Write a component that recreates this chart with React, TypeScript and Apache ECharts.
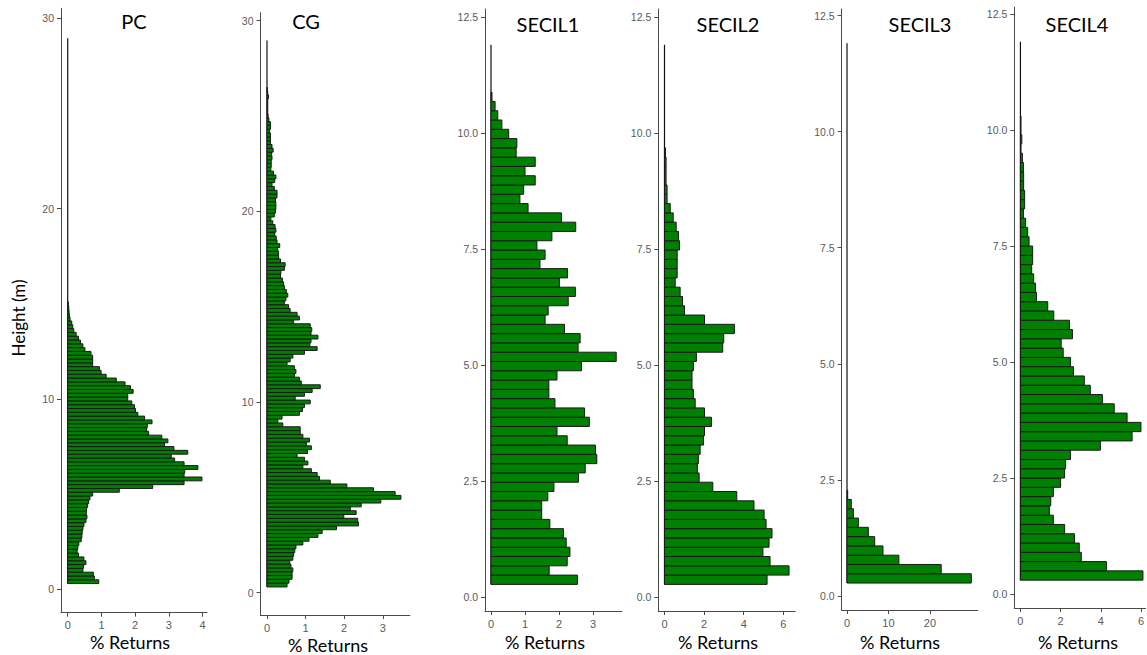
import { useEffect, useRef } from "react";
import * as echarts from "echarts";

// ---------- DATA ----------
const BIN_WIDTH = 0.2;

const PANEL_TITLES = ["PC", "CG", "SECIL1", "SECIL2", "SECIL3", "SECIL4"];
const X_AXIS_NAME = "% Returns";
const Y_AXIS_NAME = "Height (m)";

// values listed from the lowest height bin upward
const PC_BIN_START = 0.3;
const PC_VALUES = [
  0.92, 0.79, 0.76, 0.45, 0.47, 0.54, 0.48, 0.32, 0.28, 0.3,
  0.33, 0.4, 0.42, 0.43, 0.45, 0.48, 0.54, 0.57, 0.55, 0.56,
  0.59, 0.62, 0.66, 0.74, 1.53, 2.52, 3.45, 3.98, 3.45, 3.47,
  3.86, 3.45, 3.17, 3.07, 3.56, 3.15, 2.87, 2.97, 2.79, 2.4,
  2.34, 2.36, 2.5, 2.28, 2.08, 2.01, 1.98, 1.9, 1.78, 1.78,
  1.94, 1.86, 1.7, 1.44, 1.14, 0.99, 0.94, 0.74, 0.74, 0.74,
  0.69, 0.51, 0.45, 0.38, 0.32, 0.25, 0.18, 0.15, 0.12, 0.07,
  0.05, 0.04, 0.03, 0.02,
];
const PC_ZERO_LINE_TOP = 28.95;

const CG_BIN_START = 0.3;
const CG_VALUES = [
  0.52, 0.57, 0.65, 0.65, 0.67, 0.62, 0.59, 0.67, 0.69, 0.72,
  0.75, 0.93, 1.09, 1.32, 1.43, 1.8, 2.37, 2.35, 1.99, 2.31,
  2.16, 2.44, 2.95, 3.47, 3.32, 2.76, 2.07, 1.64, 1.36, 1.3,
  1.15, 0.93, 1.06, 0.97, 0.78, 1.05, 1.15, 1.02, 1.1, 0.93,
  0.86, 0.86, 0.41, 0.28, 0.39, 0.84, 0.92, 0.97, 1.12, 0.73,
  0.97, 1.17, 1.38, 0.89, 0.84, 0.71, 0.75, 0.71, 0.52, 0.6,
  0.67, 0.97, 1.3, 1.11, 1.14,
  1.32, 1.14, 1.16, 1.12, 0.69, 0.84, 0.78, 0.6, 0.56, 0.45,
  0.49, 0.54, 0.5, 0.45, 0.43, 0.4, 0.35, 0.36, 0.45, 0.47,
  0.35, 0.3, 0.3, 0.28, 0.33, 0.26, 0.24, 0.2, 0.23, 0.21,
  0.15, 0.1, 0.19, 0.22, 0.23, 0.23, 0.22, 0.26, 0.26, 0.19,
  0.13, 0.2, 0.23, 0.17, 0.1, 0.11, 0.11, 0.13, 0.12, 0.16,
  0.13, 0.09, 0.09, 0.09, 0.07, 0.09, 0.09, 0.05, 0.03, 0.02,
  0.02, 0.02, 0.02, 0.04, 0.02, 0.01,
];
const CG_ZERO_LINE_TOP = 28.95;

const SECIL1_BIN_START = 0.28;
const SECIL1_VALUES = [
  2.54, 1.71, 2.24, 2.32, 2.21, 2.13, 1.73, 1.49, 1.49, 1.67,
  1.85, 2.57, 2.77, 3.11, 3.07, 2.24, 1.94, 2.89, 2.75, 1.88,
  1.7, 1.7, 1.94, 2.66, 3.68, 2.56, 2.62, 2.16, 1.59, 1.68,
  2.27, 2.48, 2.01, 2.25, 1.44, 1.59, 1.35, 1.79, 2.49, 2.07,
  1.09, 0.85, 0.96, 1.3, 1.0, 1.3, 0.74, 0.76, 0.52, 0.32,
  0.2, 0.12, 0.03,
];
const SECIL1_ZERO_LINE_TOP = 11.9;

const SECIL2_BIN_START = 0.28;
const SECIL2_VALUES = [
  5.18, 6.29, 5.33, 4.97, 5.28, 5.43, 5.13, 5.03, 4.52, 3.65,
  2.44, 1.75, 1.66, 1.71, 1.8, 1.97, 2.02, 2.37, 2.02, 1.55,
  1.46, 1.39, 1.39, 1.46, 1.61, 2.94, 2.99, 3.53, 2.02, 1.01,
  0.91, 0.79, 0.54, 0.64, 0.64, 0.64, 0.76, 0.71, 0.59, 0.44,
  0.29, 0.13, 0.13, 0.08, 0.08, 0.08, 0.05,
];
const SECIL2_ZERO_LINE_TOP = 11.9;

const SECIL3_BIN_START = 0.28;
const SECIL3_VALUES = [29.96, 22.7, 12.5, 8.67, 6.67, 5.14, 2.73, 1.53, 1.04, 0.16];
const SECIL3_ZERO_LINE_TOP = 11.9;

const SECIL4_BIN_START = 0.3;
const SECIL4_VALUES = [
  6.1, 4.28, 3.03, 2.93, 2.69, 2.2, 1.64, 1.44, 1.51, 1.64,
  2.0, 2.2, 2.25, 2.49, 3.98, 5.56, 6.0, 5.31, 4.67, 4.08,
  3.48, 3.18, 2.64, 2.49, 2.13, 2.03, 2.59, 2.44, 1.66, 1.36,
  0.8, 0.75, 0.66, 0.56, 0.61, 0.61, 0.43, 0.36, 0.26, 0.15,
  0.21, 0.21, 0.16, 0.16, 0.15, 0.1, 0.03, 0.07, 0.03, 0.03,
];
const SECIL4_ZERO_LINE_TOP = 11.9;

const PC_X_TICKS = [0, 1, 2, 3, 4];
const CG_X_TICKS = [0, 1, 2, 3];
const SECIL1_X_TICKS = [0, 1, 2, 3];
const SECIL2_X_TICKS = [0, 2, 4, 6];
const SECIL3_X_TICKS = [0, 10, 20];
const SECIL4_X_TICKS = [0, 2, 4, 6];
const PC_Y_TICKS = [0, 10, 20, 30];
const SECIL_Y_TICKS = [0, 2.5, 5, 7.5, 10, 12.5];

// ---------- LAYOUT / STYLE ----------
const PANELS = [
  { values: PC_VALUES, start: PC_BIN_START, zeroTop: PC_ZERO_LINE_TOP, xTicks: PC_X_TICKS, yTicks: PC_Y_TICKS, dec: 0,
    left: 61, top: 8.3, right: 207, bottom: 612.7, xMin: -0.199, xMax: 4.13, yMin: -1.23, yMax: 30.53, titleX: 134, titleY: 21, nameX: 130, nameY: 642 },
  { values: CG_VALUES, start: CG_BIN_START, zeroTop: CG_ZERO_LINE_TOP, xTicks: CG_X_TICKS, yTicks: PC_Y_TICKS, dec: 0,
    left: 260.5, top: 12.7, right: 409.8, bottom: 615, xMin: -0.168, xMax: 3.7, yMin: -1.17, yMax: 30.41, titleX: 306, titleY: 21, nameX: 328, nameY: 645 },
  { values: SECIL1_VALUES, start: SECIL1_BIN_START, zeroTop: SECIL1_ZERO_LINE_TOP, xTicks: SECIL1_X_TICKS, yTicks: SECIL_Y_TICKS, dec: 1,
    left: 485, top: 9, right: 622, bottom: 611, xMin: -0.176, xMax: 3.85, yMin: -0.293, yMax: 12.67, titleX: 548, titleY: 24, nameX: 545, nameY: 642 },
  { values: SECIL2_VALUES, start: SECIL2_BIN_START, zeroTop: SECIL2_ZERO_LINE_TOP, xTicks: SECIL2_X_TICKS, yTicks: SECIL_Y_TICKS, dec: 1,
    left: 658.3, top: 9, right: 795.2, bottom: 611, xMin: -0.313, xMax: 6.6, yMin: -0.293, yMax: 12.67, titleX: 728, titleY: 24, nameX: 718, nameY: 642 },
  { values: SECIL3_VALUES, start: SECIL3_BIN_START, zeroTop: SECIL3_ZERO_LINE_TOP, xTicks: SECIL3_X_TICKS, yTicks: SECIL_Y_TICKS, dec: 1,
    left: 841.7, top: 9, right: 977.7, bottom: 610, xMin: -1.28, xMax: 31.5, yMin: -0.3, yMax: 12.64, titleX: 920, titleY: 24, nameX: 900, nameY: 642 },
  { values: SECIL4_VALUES, start: SECIL4_BIN_START, zeroTop: SECIL4_ZERO_LINE_TOP, xTicks: SECIL4_X_TICKS, yTicks: SECIL_Y_TICKS, dec: 1,
    left: 1014.3, top: 7, right: 1147, bottom: 608, xMin: -0.305, xMax: 6.23, yMin: -0.3, yMax: 12.65, titleX: 1077, titleY: 24, nameX: 1078, nameY: 642 },
];

const BAR_FILL = "#008000";
const BAR_STROKE = "#1a1a1a";
const AXIS_COLOR = "#4a4a4a";
const TICK_LABEL_COLOR = "#5a5a5a";
const TICK_FONT = "'Liberation Sans', Arial, sans-serif";
const TITLE_FONT = "Lato, 'Open Sans', sans-serif";

export default function App() {
  const ref = useRef<HTMLDivElement>(null);

  useEffect(() => {
    if (!ref.current) return;
    const chart = echarts.init(ref.current, undefined, { renderer: "svg" });

    const grids: any[] = [];
    const xAxes: any[] = [];
    const yAxes: any[] = [];
    const series: any[] = [];
    const graphics: any[] = [];

    PANELS.forEach((p, i) => {
      grids.push({ left: p.left, top: p.top, width: p.right - p.left, height: p.bottom - p.top, containLabel: false });
      xAxes.push({
        type: "value", gridIndex: i, min: p.xMin, max: p.xMax, position: "bottom",
        axisLine: { show: true, onZero: false, lineStyle: { color: AXIS_COLOR, width: 1 } },
        axisTick: { show: true, length: 4, customValues: p.xTicks, lineStyle: { color: AXIS_COLOR } },
        axisLabel: { show: true, customValues: p.xTicks, margin: 7, color: TICK_LABEL_COLOR, fontSize: 11, fontFamily: TICK_FONT },
        splitLine: { show: false },
      });
      yAxes.push({
        type: "value", gridIndex: i, min: p.yMin, max: p.yMax, position: "left",
        axisLine: { show: true, onZero: false, lineStyle: { color: AXIS_COLOR, width: 1 } },
        axisTick: { show: true, length: 4, customValues: p.yTicks, lineStyle: { color: AXIS_COLOR } },
        axisLabel: {
          show: true, customValues: p.yTicks, margin: 7, color: TICK_LABEL_COLOR, fontSize: 10.5, fontFamily: TICK_FONT,
          formatter: (v: number) => v.toFixed(p.dec),
        },
        splitLine: { show: false },
      });
      series.push({
        type: "line", xAxisIndex: i, yAxisIndex: i, silent: true, showSymbol: false, symbol: "none",
        data: [[0, p.start], [0, p.zeroTop]],
        lineStyle: { color: "#111", width: 1.2 }, z: 1,
      });
      series.push({
        type: "custom", xAxisIndex: i, yAxisIndex: i, z: 2,
        data: p.values.map((v, k) => [p.start + k * BIN_WIDTH, p.start + (k + 1) * BIN_WIDTH, v]),
        encode: { x: 2, y: [0, 1] },
        renderItem: (_params: any, api: any) => {
          const a = api.coord([0, api.value(0)]);
          const b = api.coord([api.value(2), api.value(1)]);
          return {
            type: "rect",
            shape: { x: a[0], y: b[1], width: b[0] - a[0], height: a[1] - b[1] },
            style: { fill: BAR_FILL, stroke: BAR_STROKE, lineWidth: 1 },
          };
        },
      });
      graphics.push({
        type: "text", x: p.titleX, y: p.titleY,
        style: { text: PANEL_TITLES[i], fill: "#000", fontSize: 20, fontFamily: TITLE_FONT, fontWeight: "normal", textAlign: "center", textVerticalAlign: "middle" },
      });
      graphics.push({
        type: "text", x: p.nameX, y: p.nameY,
        style: { text: X_AXIS_NAME, fill: "#000", fontSize: 18, fontFamily: TITLE_FONT, fontWeight: "normal", textAlign: "center", textVerticalAlign: "middle" },
      });
    });

    graphics.push({
      type: "text", x: 18, y: 318, rotation: Math.PI / 2,
      style: { text: Y_AXIS_NAME, fill: "#000", fontSize: 17, fontFamily: TITLE_FONT, fontWeight: "normal", textAlign: "center", textVerticalAlign: "middle" },
    });

    chart.setOption({
      animation: false,
      backgroundColor: "#ffffff",
      grid: grids,
      xAxis: xAxes,
      yAxis: yAxes,
      series,
      graphic: graphics,
    });

    return () => chart.dispose();
  }, []);

  return <div ref={ref} style={{ position: "absolute", left: 0, top: 0, width: 1147, height: 655 }} />;
}
